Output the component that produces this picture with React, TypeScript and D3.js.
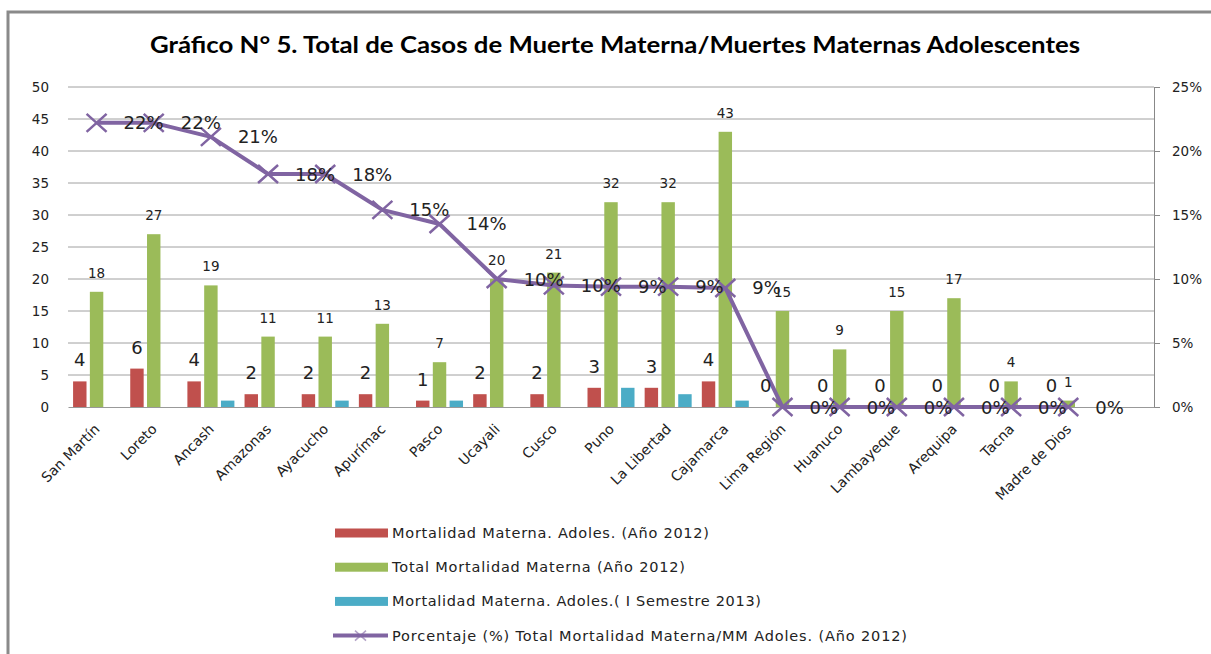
import React, { useEffect, useRef } from "react";
import * as d3 from "d3";

const categories = [
  "San Martín", "Loreto", "Ancash", "Amazonas", "Ayacucho", "Apurímac", "Pasco", "Ucayali", "Cusco",
  "Puno", "La Libertad", "Cajamarca", "Lima Región", "Huanuco", "Lambayeque", "Arequipa", "Tacna", "Madre de Dios",
];
const adol2012 = [4, 6, 4, 2, 2, 2, 1, 2, 2, 3, 3, 4, 0, 0, 0, 0, 0, 0];
const total2012 = [18, 27, 19, 11, 11, 13, 7, 20, 21, 32, 32, 43, 15, 9, 15, 17, 4, 1];
const adol2013 = [0, 0, 1, 0, 1, 0, 1, 0, 0, 3, 2, 1, 0, 0, 0, 0, 0, 0];
const pct2012 = [22.2, 22.2, 21.1, 18.2, 18.2, 15.4, 14.3, 10.0, 9.5, 9.4, 9.4, 9.3, 0, 0, 0, 0, 0, 0];
const leftTicks = [0, 5, 10, 15, 20, 25, 30, 35, 40, 45, 50];
const rightTicks = [0, 5, 10, 15, 20, 25];
const legendNames = [
  "Mortalidad Materna. Adoles. (Año 2012)",
  "Total Mortalidad Materna (Año 2012)",
  "Mortalidad Materna. Adoles.( I Semestre 2013)",
  "Porcentaje (%) Total Mortalidad Materna/MM Adoles. (Año 2012)",
];

const RED = "#C0504D";
const GREEN = "#9BBB59";
const BLUE = "#4BACC6";
const PURPLE = "#8064A2";
const FONT = "'DejaVu Sans', Verdana, sans-serif";

export default function App() {
  const ref = useRef<SVGSVGElement>(null);

  useEffect(() => {
    const svg = d3.select(ref.current);
    svg.selectAll("*").remove();

    const left = 68, right = 1154, top = 87, bottom = 407;

    // 19 slots, the last one stays empty like in the original
    const x = d3.scaleBand<string>().domain([...categories, ""]).range([left, right]);
    const sub = d3.scaleBand<string>().domain(["a", "b", "c"]).range([-23.5, 23.5]).paddingInner(0.2);
    const y = d3.scaleLinear().domain([0, 50]).range([bottom, top]);
    const y2 = d3.scaleLinear().domain([0, 25]).range([bottom, top]);
    const cx = (c: string) => (x(c) as number) + x.bandwidth() / 2;

    // frame
    svg.append("rect").attr("x", 8).attr("y", 12).attr("width", 1220).attr("height", 660)
      .attr("fill", "white").attr("stroke", "#8a8a8a").attr("stroke-width", 3);

    svg.append("text").attr("x", 615).attr("y", 53).attr("text-anchor", "middle")
      .attr("font-family", "Lato, sans-serif").attr("font-weight", "bold").attr("font-size", 22)
      .attr("textLength", 930).attr("lengthAdjust", "spacingAndGlyphs").attr("fill", "#000")
      .text("Gráfico N° 5. Total de Casos de Muerte Materna/Muertes Maternas Adolescentes");

    // gridlines
    svg.append("g").selectAll("line").data(leftTicks.slice(1)).join("line")
      .attr("x1", left).attr("x2", right).attr("y1", (d) => y(d)).attr("y2", (d) => y(d))
      .attr("stroke", "#a0a0a0").attr("stroke-width", 1);

    // left labels
    svg.append("g").attr("transform", `translate(${left},0)`)
      .call(d3.axisLeft(y).tickValues(leftTicks).tickSize(0).tickPadding(19))
      .call((g) => g.select(".domain").remove())
      .call((g) => g.selectAll("text").attr("font-family", FONT).attr("font-size", 13.5).attr("fill", "#222"));

    // right axis
    svg.append("g").attr("transform", `translate(${right},0)`)
      .call(d3.axisRight(y2).tickValues(rightTicks).tickSize(6).tickSizeOuter(0).tickPadding(12).tickFormat((d) => d + "%"))
      .call((g) => g.select(".domain").attr("stroke", "#888"))
      .call((g) => g.selectAll("line").attr("stroke", "#888"))
      .call((g) => g.selectAll("text").attr("font-family", FONT).attr("font-size", 13.5).attr("fill", "#222"));

    // bars
    const series = [
      { key: "a", vals: adol2012, color: RED },
      { key: "b", vals: total2012, color: GREEN },
      { key: "c", vals: adol2013, color: BLUE },
    ];
    series.forEach((s) => {
      svg.append("g").selectAll("rect").data(categories).join("rect")
        .attr("x", (c) => cx(c) + (sub(s.key) as number))
        .attr("width", sub.bandwidth())
        .attr("y", (c, i) => y(s.vals[i]))
        .attr("height", (c, i) => bottom - y(s.vals[i]))
        .attr("fill", s.color);
    });

    // category axis
    svg.append("g").attr("transform", `translate(0,${bottom})`)
      .call(d3.axisBottom(x).tickSize(0).tickFormat(() => ""))
      .call((g) => g.select(".domain").attr("stroke", "#999"));

    svg.append("g").selectAll("text").data(categories).join("text")
      .attr("transform", (c) => `translate(${cx(c) + 4},${bottom + 23}) rotate(-45)`)
      .attr("text-anchor", "end").attr("font-family", FONT).attr("font-size", 14).attr("fill", "#222")
      .text((c) => c);

    // line
    const line = d3.line<number>().x((d, i) => cx(categories[i])).y((d) => y2(d));
    svg.append("path").datum(pct2012).attr("d", line).attr("fill", "none")
      .attr("stroke", PURPLE).attr("stroke-width", 4).attr("stroke-linejoin", "round");
    svg.append("g").selectAll("path").data(pct2012).join("path")
      .attr("d", (d, i) => {
        const px = cx(categories[i]), py = y2(d), r = 10, h = 9;
        return `M${px - r},${py - h}L${px + r},${py + h}M${px - r},${py + h}L${px + r},${py - h}`;
      })
      .attr("stroke", PURPLE).attr("stroke-width", 2.5).attr("fill", "none");

    // data labels
    svg.append("g").selectAll("text").data(adol2012).join("text")
      .attr("x", (d, i) => cx(categories[i]) + (sub("a") as number) + sub.bandwidth() / 2)
      .attr("y", (d) => y(d) - 15).attr("text-anchor", "middle")
      .attr("font-family", FONT).attr("font-size", 18).attr("fill", "#222").text((d) => d);
    svg.append("g").selectAll("text").data(total2012).join("text")
      .attr("x", (d, i) => cx(categories[i]))
      .attr("y", (d) => y(d) - 14).attr("text-anchor", "middle")
      .attr("font-family", FONT).attr("font-size", 13.5).attr("fill", "#222").text((d) => d);
    svg.append("g").selectAll("text").data(pct2012).join("text")
      .attr("x", (d, i) => cx(categories[i]) + 27)
      .attr("y", (d) => y2(d) + 6.5)
      .attr("font-family", FONT).attr("font-size", 18).attr("fill", "#222")
      .text((d) => Math.round(d) + "%");

    // legend
    const legendWidths = [317, 293, 369, 515];
    const lg = svg.append("g");
    legendNames.forEach((name, i) => {
      const ly = 533 + i * 34.2;
      if (i < 3) {
        lg.append("rect").attr("x", 335).attr("y", ly - 4.5).attr("width", 53).attr("height", 9)
          .attr("fill", [RED, GREEN, BLUE][i]);
      } else {
        lg.append("line").attr("x1", 333).attr("x2", 388).attr("y1", ly).attr("y2", ly)
          .attr("stroke", PURPLE).attr("stroke-width", 4);
        lg.append("path").attr("d", `M355,${ly - 5}L366,${ly + 5}M355,${ly + 5}L366,${ly - 5}`)
          .attr("stroke", PURPLE).attr("stroke-width", 1.5).attr("opacity", 0.6);
      }
      lg.append("text").attr("x", 392).attr("y", ly + 5)
        .attr("font-family", FONT).attr("font-size", 14.5).attr("fill", "#222")
        .attr("textLength", legendWidths[i]).attr("lengthAdjust", "spacing").text(name);
    });
  }, []);

  return (
    <svg ref={ref} width={1211} height={654}
      style={{ position: "absolute", left: 0, top: 0, background: "white" }} />
  );
}
